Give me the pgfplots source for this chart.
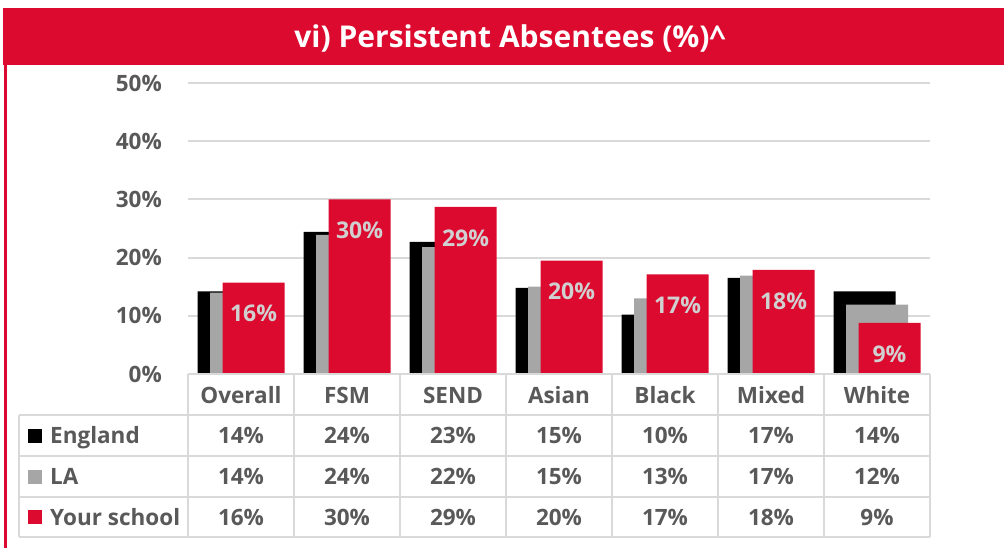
\documentclass[border=0pt]{standalone}
\usepackage{fontspec}
\setmainfont{Open Sans}
\usepackage{pgfplots}
\pgfplotsset{compat=1.18}
\definecolor{rd}{HTML}{DC0A2E}
\definecolor{gr}{HTML}{A6A6A6}
\definecolor{tx}{HTML}{595959}
\definecolor{ln}{HTML}{D9D9D9}
\definecolor{lab}{HTML}{D0D0D0}
\newcommand{\tf}{\fontsize{22.5}{26}\selectfont\bfseries}
\begin{document}
\begin{tikzpicture}[x=1pt,y=1pt]
\path[use as bounding box] (0,0) rectangle (1004,-548);
\fill[rd] (3,-8) rectangle (1004,-65);
\node[text=white, font=\fontsize{30}{34}\selectfont\bfseries] at (510,-38) {vi) Persistent Absentees (\%)\textasciicircum};
\fill[rd] (4,-65) rectangle (7,-548);
\begin{axis}[at={(188pt,-374pt)}, anchor=south west, scale only axis,
  width=742pt, height=291pt,
  xmin=-0.5, xmax=6.5, ymin=0, ymax=50,
  ytick={0,10,...,50}, xtick={0,...,6},
  xticklabels={Overall,FSM,SEND,Asian,Black,Mixed,White},
  axis line style={draw=none}, major tick style={draw=none},
  ymajorgrids, grid style={ln, line width=2pt},
  /pgf/number format/assume math mode=true,
  yticklabel={\pgfmathprintnumber{\tick}\%},
  yticklabel style={font=\tf, text=tx, anchor=east, inner sep=0pt, xshift=-26pt},
  xticklabel style={font=\tf, text=tx, anchor=center, inner sep=0pt, yshift=-17pt},
  ybar, bar width=62pt, clip=false]
\addplot[fill=black, draw=none, bar shift=-12.5pt] coordinates {(0,14.2) (1,24.4) (2,22.7) (3,14.8) (4,10.2) (5,16.5) (6,14.2)};
\addplot[fill=gr, draw=none, bar shift=0pt] coordinates {(0,14.0) (1,23.9) (2,21.8) (3,15.0) (4,13.0) (5,16.9) (6,11.9)};
\addplot[fill=rd, draw=none, bar shift=12.5pt, point meta=explicit symbolic,
  nodes near coords={\pgfplotspointmeta\%},
  every node near coord/.append style={font=\fontsize{23}{26}\selectfont\bfseries, text=lab, anchor=center, yshift=-31pt}]
  coordinates {(0,15.7) [16] (1,30.0) [30] (2,28.7) [29] (3,19.5) [20] (4,17.1) [17] (5,17.9) [18] (6,8.8) [9]};
\end{axis}
\begin{scope}[ln, line width=2pt]
\draw (188,-374) -- (930,-374);
\foreach \y in {-415,-456,-497,-537} \draw (19,\y) -- (930,\y);
\foreach \k in {0,...,7} \draw (188+106*\k,-374) -- (188+106*\k,-537);
\draw (19,-415) -- (19,-537);
\end{scope}
\fill[black] (28,-428.5) rectangle (42,-442.5);
\fill[gr] (28,-469.5) rectangle (42,-483.5);
\fill[rd] (28,-510) rectangle (42,-524);
\node[font=\tf, text=tx, anchor=base west, inner sep=0pt] at (50,-443.5) {England};
\node[font=\tf, text=tx, anchor=base west, inner sep=0pt] at (50,-484.5) {LA};
\node[font=\tf, text=tx, anchor=base west, inner sep=0pt] at (50,-525) {Your school};
\foreach \v [count=\i from 0] in {14,24,23,15,10,17,14}
  \node[font=\tf, text=tx, anchor=base, inner sep=0pt] at (241+106*\i,-443.5) {\v\%};
\foreach \v [count=\i from 0] in {14,24,22,15,13,17,12}
  \node[font=\tf, text=tx, anchor=base, inner sep=0pt] at (241+106*\i,-484.5) {\v\%};
\foreach \v [count=\i from 0] in {16,30,29,20,17,18,9}
  \node[font=\tf, text=tx, anchor=base, inner sep=0pt] at (241+106*\i,-525) {\v\%};
\end{tikzpicture}
\end{document}
